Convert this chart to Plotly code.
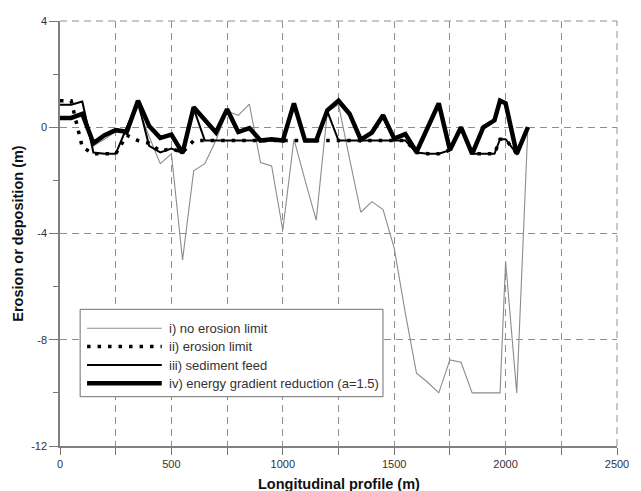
import plotly.graph_objects as go

# ---------------- data ----------------
x_thin = [0, 50, 100, 150, 200, 250, 300, 350, 400, 450, 500, 550, 600, 650, 700,
          750, 800, 850, 900, 950, 1000, 1050, 1100, 1150, 1200, 1250, 1300, 1350,
          1400, 1450, 1500, 1550, 1600, 1650, 1700, 1750, 1800, 1850, 1900, 1950,
          1975, 2000, 2050, 2100]
y_thin = [0.85, 0.85, 0.97, -0.7, -0.45, -0.15, -0.15, 0.75, -0.35, -1.37, -1.0, -5.0,
          -1.64, -1.37, -0.49, 0.6, 0.45, 0.87, -1.33, -1.46, -3.87, -0.45, -2.0, -3.5,
          0.6, 0.85, -1.2, -3.2, -2.8, -3.1, -4.55, -7.0, -9.26, -9.6, -10.0, -8.76,
          -8.85, -10.0, -10.0, -10.0, -10.0, -5.05, -10.0, 0.0]

x_limit = [0, 50, 100, 150, 200, 250, 300, 350, 400, 450, 500, 550, 600, 650, 700,
           750, 800, 850, 900, 950, 1000, 1050, 1100, 1150, 1200, 1250, 1300, 1350,
           1400, 1450, 1500, 1550, 1600, 1650, 1700, 1750, 1800, 1850, 1900, 1950,
           1975, 2000, 2050, 2100]
y_limit = [1.0, 1.0, -0.75, -1.0, -1.0, -1.0, -0.3, -0.5, -0.6, -0.9, -0.8, -0.95,
           -0.5, -0.5, -0.5, -0.5, -0.5, -0.5, -0.5, -0.5, -0.5, -0.5, -0.5, -0.5,
           -0.5, -0.5, -0.5, -0.5, -0.5, -0.5, -0.5, -0.5, -0.95, -1.0, -1.0, -0.86,
           0.0, -1.0, -1.0, -1.0, -0.45, -0.45, -1.0, 0.0]

x_feed = [0, 50, 100, 150, 200, 250, 300, 350, 400, 450, 500, 550, 600, 650, 700,
          750, 800, 850, 900, 950, 1000, 1050, 1100, 1150, 1200, 1250, 1300, 1350,
          1400, 1450, 1500, 1550, 1600, 1650, 1700, 1750, 1800, 1850, 1900, 1950,
          1975, 2000, 2050, 2100]
y_feed = [0.85, 0.85, 0.97, -0.95, -1.0, -1.0, 0.0, 0.95, -0.7, -0.95, -0.8, -0.97,
          0.7, -0.5, -0.5, -0.5, -0.5, -0.5, -0.5, -0.5, -0.5, 0.9, -0.5, -0.5,
          0.6, -0.5, -0.5, -0.5, -0.5, -0.5, -0.5, -0.5, -0.95, -1.0, -1.0, -0.86,
          0.0, -1.0, -1.0, -1.0, -0.45, -0.45, -1.0, 0.0]

x_energy = [0, 50, 100, 150, 200, 250, 300, 350, 400, 450, 500, 550, 600, 650, 700,
            750, 800, 850, 900, 950, 1000, 1050, 1100, 1150, 1200, 1250, 1300, 1350,
            1400, 1450, 1500, 1550, 1600, 1650, 1700, 1750, 1800, 1850, 1900, 1950,
            1975, 2000, 2050, 2100]
y_energy = [0.35, 0.35, 0.5, -0.6, -0.3, -0.11, -0.17, 1.0, 0.05, -0.4, -0.28, -0.97,
            0.75, 0.3, -0.2, 0.68, -0.18, -0.03, -0.5, -0.45, -0.5, 0.9, -0.5, -0.5,
            0.64, 1.0, 0.5, -0.47, -0.2, 0.45, -0.43, -0.26, -0.93, -0.02, 0.9, -0.86,
            0.0, -1.0, 0.0, 0.26, 1.0, 0.9, -1.0, 0.0]

series_names = ["i) no erosion limit", "ii) erosion limit", "iii) sediment feed",
                "iv) energy gradient reduction (a=1.5)"]

x_tick_vals = [0, 500, 1000, 1500, 2000, 2500]
x_tick_text = ["0", "500", "1000", "1500", "2000", "2500"]
x_minor_vals = [250, 750, 1250, 1750, 2250]
y_tick_vals = [-12, -8, -4, 0, 4]
y_tick_text = ["-12", "-8", "-4", "0", "4"]
y_minor_vals = [-10, -6, -2, 2]

# ---------------- styles ----------------
FONT = "Liberation Sans, Arial, sans-serif"
styles = [
    dict(color="#8c8c8c", width=1.1, dash="solid"),
    dict(color="#000000", width=3.5, dash="3.5px,7px"),
    dict(color="#000000", width=2.0, dash="solid"),
    dict(color="#000000", width=4.5, dash="solid"),
]

fig = go.Figure()
for xs, ys, name, st in zip([x_thin, x_limit, x_feed, x_energy],
                            [y_thin, y_limit, y_feed, y_energy],
                            series_names, styles):
    fig.add_trace(go.Scatter(x=xs, y=ys, mode="lines", name=name, line=st,
                             showlegend=False))

L, R, T, B = 59.5, 15, 21, 45
W, H = 641, 491
pw, ph = W - L - R, H - T - B

def px_x(p):
    return (p - L) / pw

def px_y(p):
    return (H - B - p) / ph

grid_col = "#8f8f8f"
GD = "7px,5px"
fig.update_layout(
    width=W, height=H,
    margin=dict(l=L, r=R, t=T, b=B, pad=0),
    plot_bgcolor="white", paper_bgcolor="white",
    font=dict(family=FONT, size=11, color="#333333"),
    xaxis=dict(range=[0, 2500], tickvals=x_tick_vals, ticktext=x_tick_text,
               ticks="outside", ticklen=7, tickcolor="#777777", tickwidth=1,
               showgrid=True, gridcolor=grid_col, griddash=GD, gridwidth=1,
               zeroline=False, showline=True, linecolor="#808080", linewidth=1.5,
               tickfont=dict(size=11, color="#333333"),
               minor=dict(tickvals=x_minor_vals, ticks="outside", ticklen=7,
                          tickcolor="#777777", showgrid=True, gridcolor=grid_col,
                          griddash=GD, gridwidth=1)),
    yaxis=dict(range=[-12, 4], tickvals=y_tick_vals, ticktext=y_tick_text,
               ticks="outside", ticklen=9, tickcolor="#777777", tickwidth=1,
               showgrid=True, gridcolor=grid_col, griddash=GD, gridwidth=1,
               zeroline=False, showline=True, linecolor="#808080", linewidth=1.5,
               tickfont=dict(size=11, color="#333333"),
               minor=dict(tickvals=y_minor_vals, ticks="outside", ticklen=5,
                          tickcolor="#777777", showgrid=False)),
)

# dashed frame on the top and right edges (grid lines at the range limits)
fig.add_shape(type="line", xref="paper", yref="paper", x0=0, x1=1, y0=1, y1=1,
              line=dict(color=grid_col, width=1, dash=GD), layer="below")
fig.add_shape(type="line", xref="paper", yref="paper", x0=1, x1=1, y0=0, y1=1,
              line=dict(color=grid_col, width=1, dash=GD), layer="below")

# axis titles
fig.add_annotation(text="<b>Longitudinal profile (m)</b>", xref="paper", yref="paper",
                   x=0.5, y=px_y(484), xanchor="center", yanchor="middle",
                   showarrow=False, font=dict(size=14.5, color="#111111", family=FONT))
fig.add_annotation(text="<b>Erosion or deposition (m)</b>", xref="paper", yref="paper",
                   x=px_x(16), y=0.5, xanchor="center", yanchor="middle", textangle=-90,
                   showarrow=False, font=dict(size=14.5, color="#111111", family=FONT))

# legend (manual)
fig.add_shape(type="rect", xref="paper", yref="paper",
              x0=px_x(80), x1=px_x(388), y0=px_y(396.7), y1=px_y(309.3),
              line=dict(color="#707070", width=1), fillcolor="white", layer="above")
rows = [328.3, 346.5, 365, 383.3]
for name, st, ry in zip(series_names, styles, rows):
    fig.add_shape(type="line", xref="paper", yref="paper",
                  x0=px_x(87), x1=px_x(163), y0=px_y(ry), y1=px_y(ry),
                  line=dict(color=st["color"], width=st["width"], dash=st["dash"]),
                  layer="above")
    fig.add_annotation(text=name, xref="paper", yref="paper", x=px_x(168), y=px_y(ry),
                       xanchor="left", yanchor="middle", showarrow=False,
                       font=dict(size=13, color="#333333", family=FONT))

fig.write_html("out.html")
